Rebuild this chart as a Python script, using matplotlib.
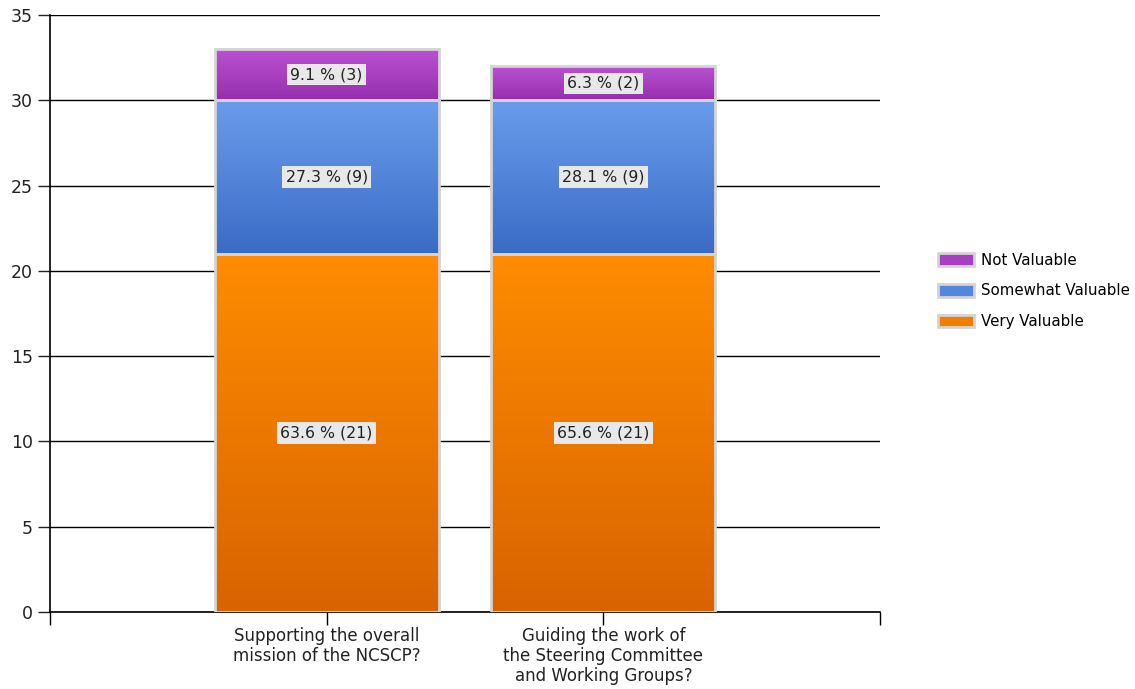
import numpy as np
import matplotlib
matplotlib.use("Agg")
import matplotlib.pyplot as plt
from matplotlib.colors import LinearSegmentedColormap
from matplotlib.patches import Patch

categories = ["Supporting the overall\nmission of the NCSCP?",
              "Guiding the work of\nthe Steering Committee\nand Working Groups?"]
series_names = ["Very Valuable", "Somewhat Valuable", "Not Valuable"]
very_valuable = [21, 21]
somewhat_valuable = [9, 9]
not_valuable = [3, 2]
very_pct = [63.6, 65.6]
somewhat_pct = [27.3, 28.1]
not_pct = [9.1, 6.3]

# top colour, bottom colour of each gradient
grad = {
    "Very Valuable": ("#ff8c00", "#d96300"),
    "Somewhat Valuable": ("#6a9cec", "#3a6cc6"),
    "Not Valuable": ("#bb52d3", "#962fae"),
}
legend_col = {"Very Valuable": "#f07f00", "Somewhat Valuable": "#5287dc", "Not Valuable": "#a83fc2"}

plt.rcParams['font.family'] = ['DejaVu Sans']
fig = plt.figure(figsize=(11.35, 6.89), dpi=100)
ax = fig.add_axes([50 / 1135, 1 - 612 / 689, 830 / 1135, 597 / 689])

x = np.arange(1, len(categories) + 1)
width = 0.81
bottom = np.zeros(len(categories))
values = [very_valuable, somewhat_valuable, not_valuable]
pcts = [very_pct, somewhat_pct, not_pct]

for name, vals, pc in zip(series_names, values, pcts):
    bars = ax.bar(x, vals, width, bottom=bottom, color="none",
                  edgecolor="#d4d4d4", linewidth=2, zorder=4)
    cmap = LinearSegmentedColormap.from_list(name, [grad[name][1], grad[name][0]])
    for b, v, p in zip(bars, vals, pc):
        x0, y0 = b.get_x(), b.get_y()
        w, h = b.get_width(), b.get_height()
        im = ax.imshow(np.linspace(0, 1, 100).reshape(-1, 1), cmap=cmap, aspect="auto",
                       origin="lower", extent=[x0, x0 + w, y0, y0 + h], zorder=3)
        im.set_clip_path(b)
        ax.text(x0 + w / 2, y0 + h / 2, f"{p} % ({v})", ha="center", va="center",
                fontsize=11.3, color="#222222", zorder=5,
                bbox=dict(boxstyle="square,pad=0.2", facecolor="#e8e8e8", edgecolor="none"))
    bottom += np.array(vals)

ax.set_xlim(0, 3)
ax.set_ylim(0, 35)
ax.set_yticks(range(0, 36, 5))
ax.set_xticks([0, 1, 2, 3])
ax.set_xticklabels([""] + categories + [""], fontsize=12, color="#222222", linespacing=1.15)
ax.tick_params(axis="y", labelsize=12.5, colors="#222222", length=9, width=1)
ax.tick_params(axis="x", length=9, width=1, pad=2)
ax.yaxis.grid(True, color="black", linewidth=1, zorder=0)
ax.set_axisbelow(True)
for s in ["top", "right"]:
    ax.spines[s].set_visible(False)
ax.spines["left"].set_linewidth(1.2)
ax.spines["bottom"].set_linewidth(1.2)

handles = [Patch(facecolor=legend_col[n], edgecolor="#d4d4d4", linewidth=2, label=n)
           for n in reversed(series_names)]
fig.legend(handles=handles, loc="center left", bbox_to_anchor=(924 / 1135, 1 - 291 / 689),
           frameon=False, fontsize=10.8, handlelength=2.4, handleheight=0.9,
           labelspacing=1.05, handletextpad=0.5)

fig.savefig("out.png", dpi=100)
